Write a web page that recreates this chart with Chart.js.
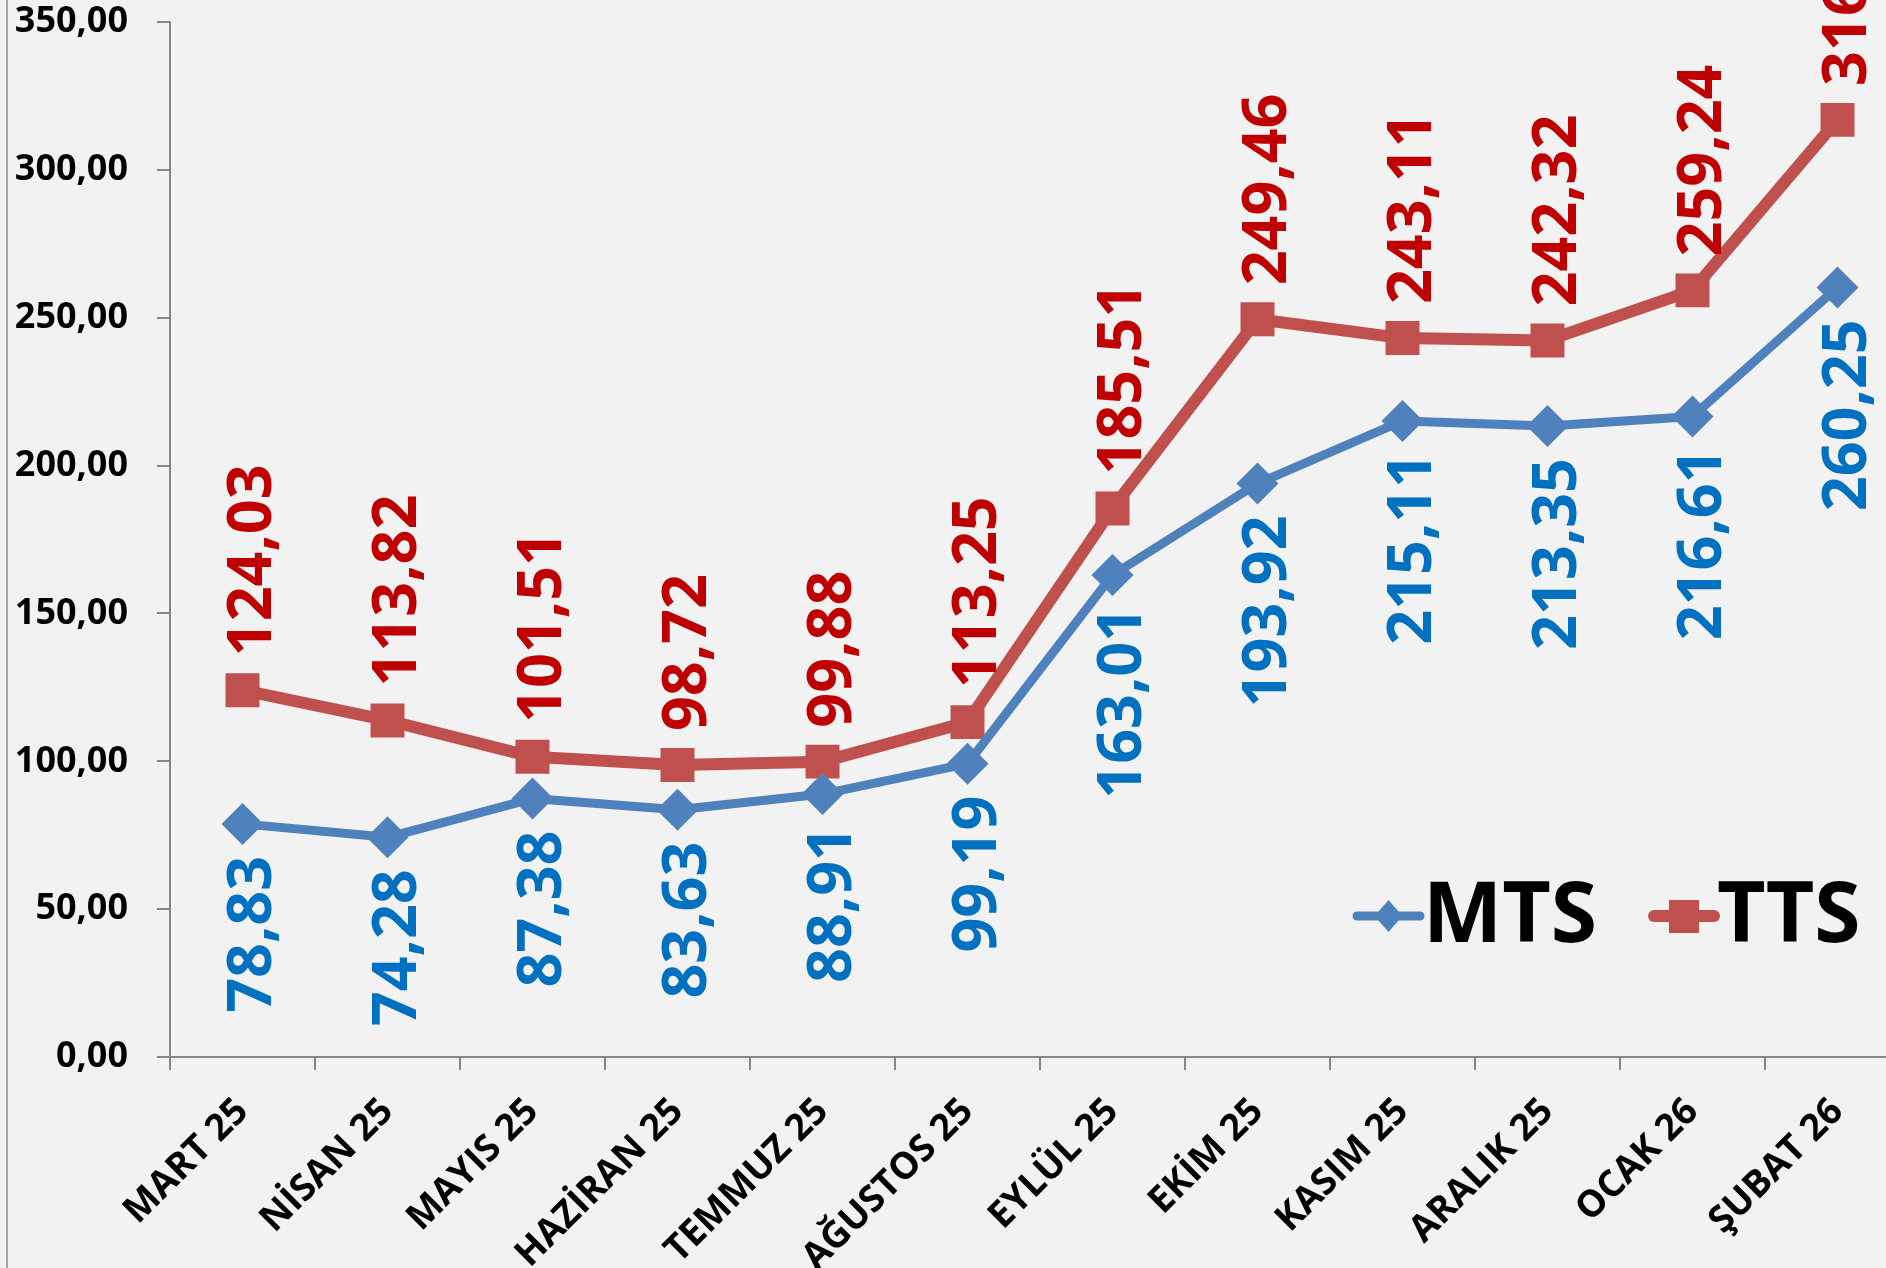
<!DOCTYPE html>
<html>
<head>
<meta charset="utf-8">
<script src="https://cdn.jsdelivr.net/npm/chart.js@4.4.0/dist/chart.umd.min.js"></script>
<style>
html, body { margin: 0; padding: 0; width: 1886px; height: 1268px; overflow: hidden; background: #f2f2f2; }
#grafik { position: absolute; left: 0; top: 0; }
#kenar { position: absolute; left: 6px; top: 0; width: 2px; height: 1268px; background: #a6a6a6; }
</style>
</head>
<body>
<div id="kenar"></div>
<canvas id="grafik" width="1910" height="1268"></canvas>
<script>
const aylar = ["MART 25", "NİSAN 25", "MAYIS 25", "HAZİRAN 25", "TEMMUZ 25", "AĞUSTOS 25", "EYLÜL 25", "EKİM 25", "KASIM 25", "ARALIK 25", "OCAK 26", "ŞUBAT 26"];
const mtsDegerleri = [78.83, 74.28, 87.38, 83.63, 88.91, 99.19, 163.01, 193.92, 215.11, 213.35, 216.61, 260.25];
const ttsDegerleri = [124.03, 113.82, 101.51, 98.72, 99.88, 113.25, 185.51, 249.46, 243.11, 242.32, 259.24, 316.90];
const yEksenTikleri = [0, 50, 100, 150, 200, 250, 300, 350];

const MAVI = "#4F81BD";
const KIRMIZI = "#C0504D";

function bicimle(deger) {
    return deger.toFixed(2).replace(".", ",");
}

// rotated value labels, TTS above the point, MTS below
const etiketEklentisi = {
    id: "degerEtiketleri",
    afterDatasetsDraw(chart) {
        const ctx = chart.ctx;
        chart.data.datasets.forEach((ds, i) => {
            const meta = chart.getDatasetMeta(i);
            meta.data.forEach((nokta, j) => {
                const ustte = ds.etiketYonu === "ust";
                ctx.save();
                ctx.translate(nokta.x + 28, nokta.y + (ustte ? -34 : 32));
                ctx.rotate(-Math.PI / 2);
                ctx.font = "bold 61px 'Open Sans'";
                ctx.fillStyle = ds.etiketRengi;
                ctx.textAlign = ustte ? "left" : "right";
                ctx.textBaseline = "alphabetic";
                ctx.fillText(bicimle(ds.data[j]), 0, 0);
                ctx.restore();
            });
        });
    }
};

// legend inside the plot, bottom right
const lejantEklentisi = {
    id: "lejant",
    afterDraw(chart) {
        const ctx = chart.ctx;
        const y = chart.chartArea.bottom - 141;
        const ogeler = [
            { ad: "MTS", renk: MAVI, x1: 1357, x2: 1420, kalinlik: 9, sekil: "karo" },
            { ad: "TTS", renk: KIRMIZI, x1: 1654, x2: 1714, kalinlik: 12, sekil: "kare" }
        ];
        ogeler.forEach((o) => {
            ctx.save();
            ctx.strokeStyle = o.renk;
            ctx.lineWidth = o.kalinlik;
            ctx.lineCap = "round";
            ctx.beginPath();
            ctx.moveTo(o.x1, y);
            ctx.lineTo(o.x2, y);
            ctx.stroke();
            const mx = (o.x1 + o.x2) / 2;
            ctx.fillStyle = o.renk;
            if (o.sekil === "karo") {
                ctx.beginPath();
                ctx.moveTo(mx, y - 16);
                ctx.lineTo(mx + 14, y);
                ctx.lineTo(mx, y + 16);
                ctx.lineTo(mx - 14, y);
                ctx.closePath();
                ctx.fill();
            } else {
                ctx.fillRect(mx - 15, y - 16, 30, 33);
            }
            ctx.fillStyle = "#000";
            ctx.font = "bold 84px 'Open Sans'";
            ctx.textAlign = "left";
            ctx.textBaseline = "middle";
            ctx.fillText(o.ad, o.x2 + 3, y + 2);
            ctx.restore();
        });
    }
};

const eksenFontu = { family: "Open Sans", weight: "bold", size: 36 };

new Chart(document.getElementById("grafik").getContext("2d"), {
    type: "line",
    data: {
        labels: aylar,
        datasets: [
            {
                label: "MTS",
                data: mtsDegerleri,
                borderColor: MAVI,
                backgroundColor: MAVI,
                borderWidth: 9,
                pointStyle: "rectRot",
                pointRadius: 21,
                pointBorderWidth: 0,
                borderJoinStyle: "round",
                tension: 0,
                fill: false,
                etiketRengi: "#0070C0",
                etiketYonu: "alt",
            },
            {
                label: "TTS",
                data: ttsDegerleri,
                borderColor: KIRMIZI,
                backgroundColor: KIRMIZI,
                borderWidth: 12,
                pointStyle: "rect",
                pointRadius: 24,
                pointBorderWidth: 0,
                borderJoinStyle: "round",
                tension: 0,
                fill: false,
                etiketRengi: "#C00000",
                etiketYonu: "ust",
            },
        ],
    },
    options: {
        responsive: false,
        animation: false,
        layout: { autoPadding: false, padding: { top: 22, right: 0, left: 0, bottom: 0 } },
        plugins: {
            legend: { display: false },
            tooltip: { enabled: false },
        },
        scales: {
            x: {
                offset: true,
                grid: { offset: true, drawOnChartArea: false, tickLength: 13, color: "#868686", lineWidth: 2 },
                border: { color: "#868686", width: 2 },
                ticks: { minRotation: 45, maxRotation: 45, autoSkip: false, padding: 20, color: "#000", font: { family: "Open Sans", weight: "bold", size: 37 } },
                afterFit: (s) => {
                    s.height = 211;
                    s.paddingLeft = 0;
                    s.paddingRight = 0;
                },
            },
            y: {
                min: 0,
                max: 350,
                afterBuildTicks: (s) => { s.ticks = yEksenTikleri.map((v) => ({ value: v })); },
                grid: { drawOnChartArea: false, tickLength: 13, color: "#868686", lineWidth: 2 },
                border: { color: "#868686", width: 2 },
                ticks: { padding: 29, color: "#000", font: eksenFontu, callback: (v) => bicimle(v) },
                afterFit: (s) => {
                    s.width = 170;
                    s.paddingTop = 0;
                    s.paddingBottom = 0;
                },
            },
        },
    },
    plugins: [etiketEklentisi, lejantEklentisi],
});
</script>
</body>
</html>
